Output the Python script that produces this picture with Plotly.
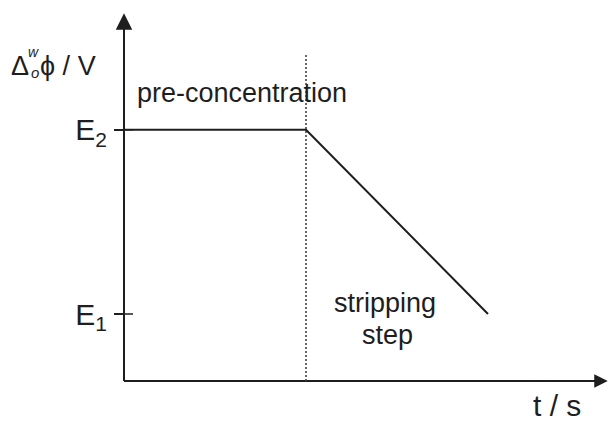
import plotly.graph_objects as go

# Potential programme for stripping voltammetry at a liquid|liquid interface
# time (arbitrary units): start, end of pre-concentration, end of stripping
t_points = [0.0, 1.0, 2.0]
# interfacial potential levels
E1 = 0.2
E2 = 0.75
E_points = [E2, E2, E1]

tick_vals = [E1, E2]
tick_text = ["E<sub>1</sub>", "E<sub>2</sub>"]

# extent of the drawn axes and of the dotted step marker
t_axis_end = 2.658
E_axis_end = 1.098
E_marker_top = 0.975

# figure geometry
W, H = 608, 421
PX_T = 182.0     # pixels per time unit
PX_E = 335.0     # pixels per potential unit
X0_PX, Y0_PX = 124.0, 381.0

x_range = [-X0_PX / PX_T, (W - X0_PX) / PX_T]
y_range = [-(H - Y0_PX) / PX_E, Y0_PX / PX_E]

FONT = "Liberation Sans, Arial, Helvetica, sans-serif"
INK = "#1e1e1e"
FS = 27


def px(x):
    return x / W


def py(y):
    return 1 - y / H


fig = go.Figure()

# axes drawn as lines from the origin
fig.add_trace(go.Scatter(
    x=[0, 0, None, 0, t_axis_end - 0.03],
    y=[E_axis_end - 0.02, 0, None, 0, 0],
    mode="lines", line=dict(color=INK, width=2), hoverinfo="skip",
))

# arrowheads at the axis ends
fig.add_trace(go.Scatter(
    x=[0], y=[E_axis_end], mode="markers",
    marker=dict(symbol="arrow-up", size=16.5, color=INK, line=dict(width=0)),
    cliponaxis=False, hoverinfo="skip",
))
fig.add_trace(go.Scatter(
    x=[t_axis_end], y=[0], mode="markers",
    marker=dict(symbol="arrow-right", size=13.5, color=INK, line=dict(width=0)),
    cliponaxis=False, hoverinfo="skip",
))

# inner half of the cross ticks at E1 and E2
tick_in = 9 / PX_T
tx, ty = [], []
for v in tick_vals:
    tx += [0, tick_in, None]
    ty += [v, v, None]
fig.add_trace(go.Scatter(x=tx, y=ty, mode="lines",
                         line=dict(color=INK, width=1.5), hoverinfo="skip"))

# dotted marker at the end of pre-concentration
fig.add_trace(go.Scatter(
    x=[t_points[1], t_points[1]], y=[0, E_marker_top], mode="lines",
    line=dict(color="#444444", width=1.6, dash="2px,2px"), hoverinfo="skip",
))

# potential programme
fig.add_trace(go.Scatter(
    x=t_points, y=E_points, mode="lines",
    line=dict(color=INK, width=2), hoverinfo="skip",
))

annotations = [
    dict(text="pre-concentration", x=px(135), y=py(93), xanchor="left"),
    dict(text="stripping", x=px(385), y=py(303), xanchor="center"),
    dict(text="step", x=px(387), y=py(335), xanchor="center"),
    dict(text="t / s", x=px(557), y=py(405), xanchor="center",
         font=dict(size=30, color=INK, family=FONT)),
    dict(text="Δ", x=px(9), y=py(66), xanchor="left"),
    dict(text="<i>w</i>", x=px(26), y=py(52), xanchor="left",
         font=dict(size=14, color=INK, family=FONT)),
    dict(text="<i>o</i>", x=px(29), y=py(72), xanchor="left",
         font=dict(size=15, color=INK, family=FONT)),
    dict(text="ϕ / V", x=px(38), y=py(66), xanchor="left"),
]
for a in annotations:
    a.setdefault("font", dict(size=FS, color=INK, family=FONT))
    a.update(xref="paper", yref="paper", yanchor="middle", showarrow=False)

fig.update_layout(
    width=W, height=H,
    margin=dict(l=0, r=0, t=0, b=0),
    paper_bgcolor="white", plot_bgcolor="white",
    showlegend=False,
    annotations=annotations,
    xaxis=dict(range=x_range, visible=False, fixedrange=True),
    yaxis=dict(
        range=y_range, anchor="free", position=X0_PX / W,
        showgrid=False, zeroline=False, showline=False,
        ticks="outside", ticklen=10, tickwidth=1.5, tickcolor=INK,
        tickvals=tick_vals, ticktext=tick_text,
        tickfont=dict(size=30, color=INK, family=FONT),
        ticklabelstandoff=1, fixedrange=True,
    ),
)

fig.write_html("out.html")
